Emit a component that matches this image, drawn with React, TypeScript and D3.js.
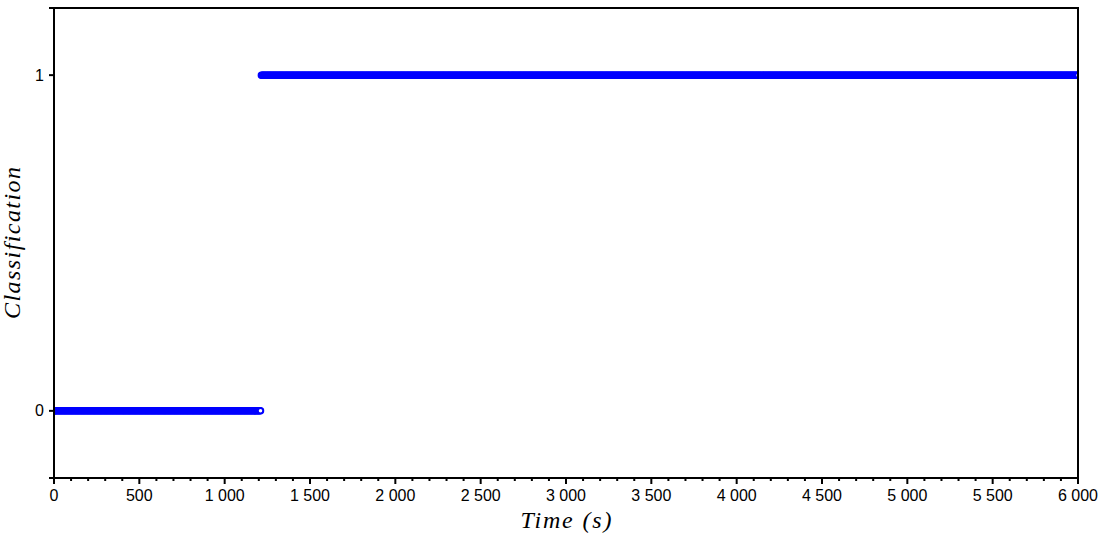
import React from "react";
import * as d3 from "d3";

// ---- data ----
const classValues = [0, 1];
const segmentStarts = [0, 1215];
const segmentEnds = [1210, 6000];
const sampleStep = 5;
const xTickValues = [0, 500, 1000, 1500, 2000, 2500, 3000, 3500, 4000, 4500, 5000, 5500, 6000];
const yTickValues = [0, 1];
const xLabel = "Time (s)";
const yLabel = "Classification";

type Pt = { t: number; c: number };
const points: Pt[] = [];
classValues.forEach((c, i) => {
  for (let t = segmentStarts[i]; t <= segmentEnds[i]; t += sampleStep) points.push({ t, c });
});

const W = 1104;
const H = 540;
const m = { left: 54, right: 1078, top: 8, bottom: 478 };

const locale = d3.formatLocale({ decimal: ".", thousands: " ", grouping: [3], currency: ["", ""] });
const fmt = locale.format(",");

export default function App() {
  const x = d3.scaleLinear().domain([0, 6000]).range([m.left, m.right]);
  const y = d3.scaleLinear().domain([-0.2, 1.2]).range([m.bottom, m.top]);
  const minor = d3.range(0, 6001, 100).filter((v) => v % 500 !== 0);
  const blue = "#0000ff";
  return (
    <svg width={W} height={H} style={{ position: "absolute", left: 0, top: 0, background: "#fff" }}>
      <defs>
        <clipPath id="plotclip">
          <rect x={m.left} y={m.top} width={m.right - m.left} height={m.bottom - m.top} />
        </clipPath>
      </defs>
      <rect x={0} y={0} width={W} height={H} fill="#fff" />
      <g clipPath="url(#plotclip)">
        {points.map((p, i) => (
          <circle key={i} cx={x(p.t)} cy={y(p.c)} r={2.75} fill="#fff" stroke={blue} strokeWidth={2} />
        ))}
      </g>
      {/* frame */}
      <g stroke="#000" strokeWidth={2} fill="none">
        <line x1={m.left - 5} x2={m.right + 1} y1={m.top} y2={m.top} />
        <line x1={m.left - 5} x2={m.right + 1} y1={m.bottom} y2={m.bottom} />
        <line x1={m.left} x2={m.left} y1={m.top} y2={m.bottom} />
        <line x1={m.right} x2={m.right} y1={m.top} y2={m.bottom} />
        {xTickValues.map((v) => (
          <line key={"M" + v} x1={x(v)} x2={x(v)} y1={m.bottom} y2={m.bottom + 6} />
        ))}
        {minor.map((v) => (
          <line key={"m" + v} x1={x(v)} x2={x(v)} y1={m.bottom} y2={m.bottom + 3} />
        ))}
        {yTickValues.map((v) => (
          <line key={"y" + v} x1={m.left - 5} x2={m.left} y1={y(v)} y2={y(v)} />
        ))}
      </g>
      <g fontFamily="'Liberation Sans', Arial, sans-serif" fontSize={16} fill="#000">
        {xTickValues.map((v) => (
          <text key={"xl" + v} x={x(v)} y={501} textAnchor="middle">
            {fmt(v)}
          </text>
        ))}
        {yTickValues.map((v) => (
          <text key={"yl" + v} x={44} y={y(v)} textAnchor="end" dominantBaseline="central">
            {fmt(v)}
          </text>
        ))}
      </g>
      <text
        x={(m.left + m.right) / 2}
        y={528}
        textAnchor="middle"
        fontFamily="'Liberation Serif', 'DejaVu Serif', serif"
        fontStyle="italic"
        fontSize={24}
        textLength={91}
      >
        {xLabel}
      </text>
      <text
        transform={`translate(20, ${(m.top + m.bottom) / 2}) rotate(-90)`}
        textAnchor="middle"
        fontFamily="'Liberation Serif', 'DejaVu Serif', serif"
        fontStyle="italic"
        fontSize={24}
        textLength={152}
      >
        {yLabel}
      </text>
    </svg>
  );
}
